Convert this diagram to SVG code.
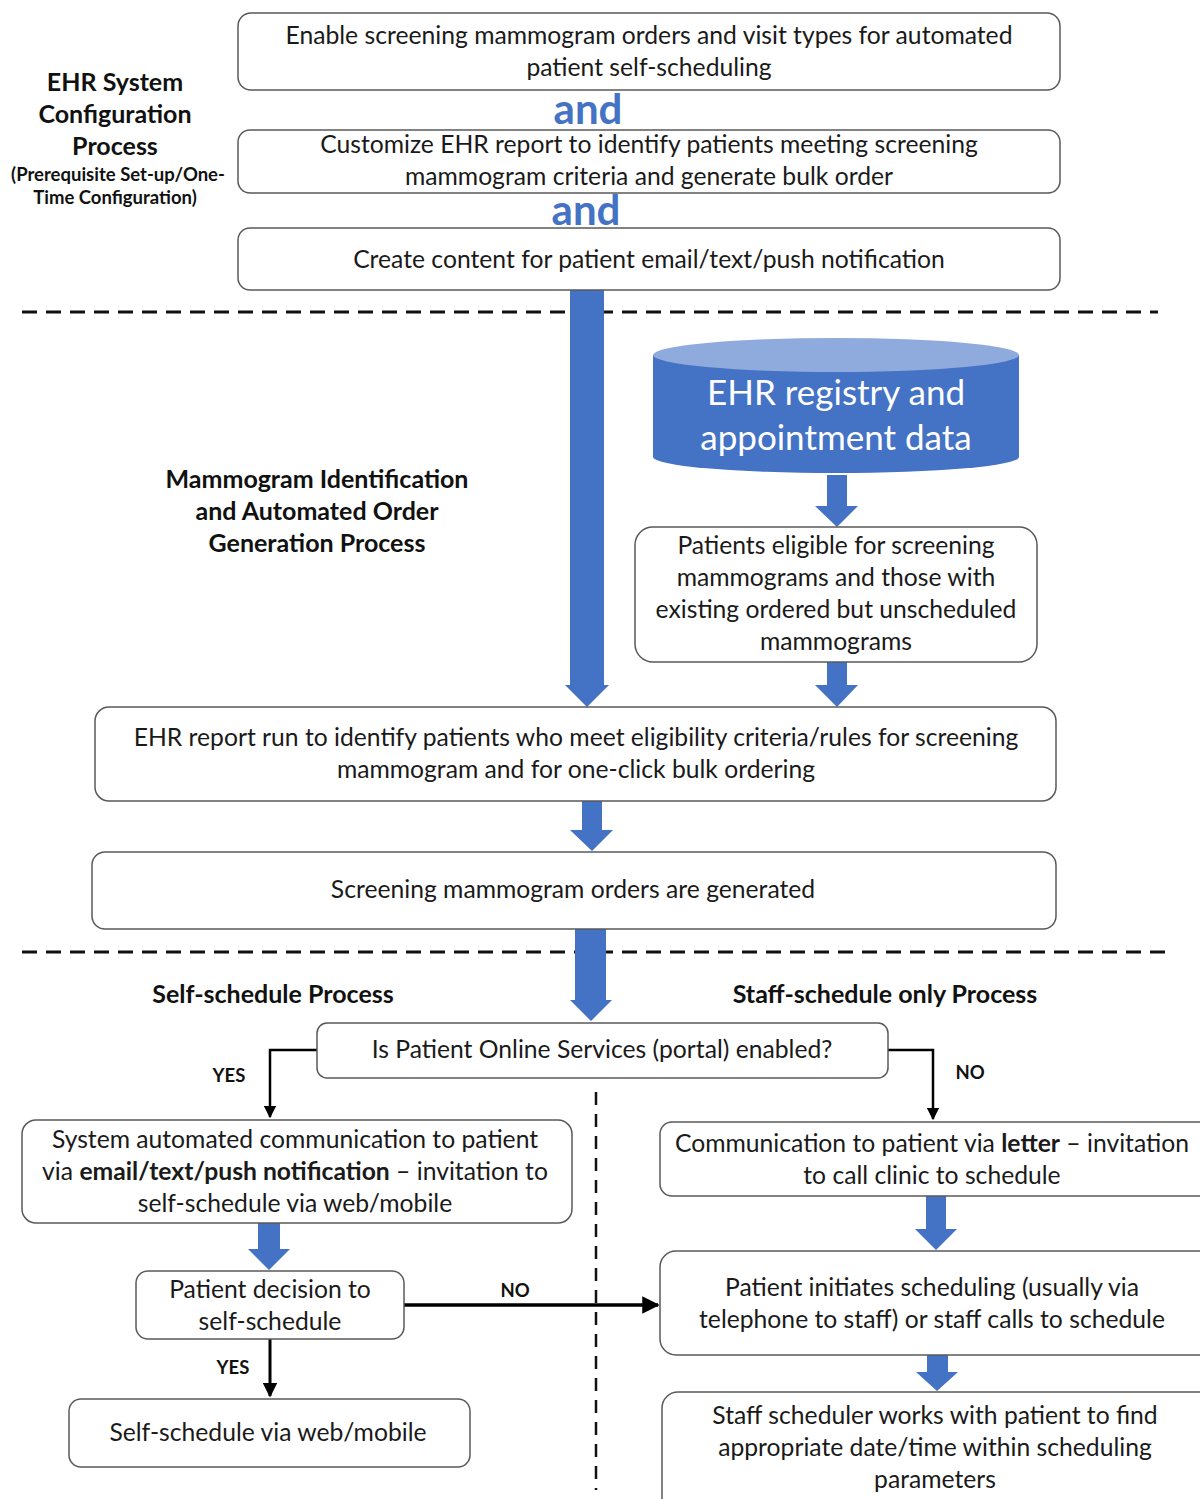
<svg xmlns="http://www.w3.org/2000/svg" width="1200" height="1499" viewBox="0 0 1200 1499">
<style>
.box{fill:#fff;stroke:#595959;stroke-width:1.5}
.t{font-family:Lato,"Liberation Sans",sans-serif;font-size:24.7px;fill:#1a1a1a;text-anchor:middle}
.h{font-family:Lato,"Liberation Sans",sans-serif;font-size:25px;font-weight:bold;fill:#111;text-anchor:middle}
.s{font-family:Lato,"Liberation Sans",sans-serif;font-size:18.5px;font-weight:bold;fill:#111;text-anchor:middle}
.and{font-family:Lato,"Liberation Sans",sans-serif;font-size:42px;font-weight:bold;fill:#4472C4;text-anchor:middle}
.blue{fill:#4472C4}
.dash{stroke:#111;stroke-width:3;stroke-dasharray:15 9;fill:none}
.vdash{stroke:#111;stroke-width:2.5;stroke-dasharray:13 9;fill:none}
.ln{stroke:#000;stroke-width:2.5;fill:none}
</style>
<defs>
<marker id="ah" viewBox="0 0 10 10" refX="9" refY="5" markerWidth="5" markerHeight="5" orient="auto" markerUnits="strokeWidth">
<path d="M0,0 L10,5 L0,10 z" fill="#000"/>
</marker>
</defs>
<rect width="1200" height="1499" fill="#fff"/>

<g id="labels">
<text class="h" x="115" y="91">EHR System</text>
<text class="h" x="115" y="123">Configuration</text>
<text class="h" x="115" y="155">Process</text>
<text class="s" x="118" y="181">(Prerequisite Set-up/One-</text>
<text class="s" x="115" y="204">Time Configuration)</text>
<text class="h" x="317" y="488">Mammogram Identification</text>
<text class="h" x="317" y="520">and Automated Order</text>
<text class="h" x="317" y="552">Generation Process</text>
<text class="h" x="273" y="1003">Self-schedule Process</text>
<text class="h" x="885" y="1003">Staff-schedule only Process</text>
<text class="and" x="588" y="124">and</text>
<text class="and" x="586" y="225">and</text>
</g>

<g id="dividers">
<line class="dash" x1="22" y1="312" x2="1158" y2="312"/>
<line class="dash" x1="22" y1="952" x2="1168" y2="952"/>
<line class="vdash" x1="596" y1="1092" x2="596" y2="1490"/>
</g>

<g id="connectors">
<polygon class="blue" points="570,290 604,290 604,685 609,685 587,707 565,685 570,685"/>
<polygon class="blue" points="827,475 847,475 847,506 858,506 837,527 815,506 827,506"/>
<polygon class="blue" points="827,662 847,662 847,685 858,685 837,707 815,685 827,685"/>
<polygon class="blue" points="582,801 602,801 602,830 613,830 592,851 570,830 582,830"/>
<polygon class="blue" points="575,929 606,929 606,1000 612,1000 591,1021 570,1000 575,1000"/>
<polygon class="blue" points="258,1223 280,1223 280,1249 290,1249 269,1270 248,1249 258,1249"/>
<polygon class="blue" points="926,1196 946,1196 946,1229 957,1229 936,1250 915,1229 926,1229"/>
<polygon class="blue" points="927,1355 948,1355 948,1372 958,1372 937,1391 916,1372 927,1372"/>
<polyline class="ln" points="317,1050 270,1050 270,1117" marker-end="url(#ah)"/>
<polyline class="ln" points="888,1050 933,1050 933,1119" marker-end="url(#ah)"/>
<line x1="404" y1="1305" x2="658" y2="1305" stroke="#000" stroke-width="3.5" marker-end="url(#ah)"/>
<line x1="270" y1="1339" x2="270" y2="1396" stroke="#000" stroke-width="3" marker-end="url(#ah)"/>
<text class="s" x="229" y="1082">YES</text>
<text class="s" x="970" y="1079">NO</text>
<text class="s" x="515" y="1297">NO</text>
<text class="s" x="233" y="1374">YES</text>
</g>

<g id="enable">
<rect class="box" x="238" y="13" width="822" height="77" rx="13"/>
<text class="t" x="649" y="44">Enable screening mammogram orders and visit types for automated</text>
<text class="t" x="649" y="76">patient self-scheduling</text>
</g>
<g id="customize">
<rect class="box" x="238" y="130" width="822" height="63" rx="12"/>
<text class="t" x="649" y="153">Customize EHR report to identify patients meeting screening</text>
<text class="t" x="649" y="185">mammogram criteria and generate bulk order</text>
</g>
<g id="content">
<rect class="box" x="238" y="228" width="822" height="62" rx="12"/>
<text class="t" x="649" y="268">Create content for patient email/text/push notification</text>
</g>

<g id="registry">
<path d="M653,355 L653,457 A183,16 0 0 0 1019,457 L1019,355 Z" fill="#4472C4"/>
<ellipse cx="836" cy="355" rx="183" ry="17" fill="#8FAADC"/>
<text x="836" y="405" font-family="Lato,'Liberation Sans',sans-serif" font-size="35" fill="#fff" text-anchor="middle">EHR registry and</text>
<text x="836" y="450" font-family="Lato,'Liberation Sans',sans-serif" font-size="35" fill="#fff" text-anchor="middle">appointment data</text>
</g>

<g id="eligible">
<rect class="box" x="635" y="527" width="402" height="135" rx="18"/>
<text class="t" x="836" y="554">Patients eligible for screening</text>
<text class="t" x="836" y="586">mammograms and those with</text>
<text class="t" x="836" y="618">existing ordered but unscheduled</text>
<text class="t" x="836" y="650">mammograms</text>
</g>

<g id="report">
<rect class="box" x="95" y="707" width="961" height="94" rx="14"/>
<text class="t" x="576" y="746">EHR report run to identify patients who meet eligibility criteria/rules for screening</text>
<text class="t" x="576" y="778">mammogram and for one-click bulk ordering</text>
</g>

<g id="orders">
<rect class="box" x="92" y="852" width="964" height="77" rx="13"/>
<text class="t" x="573" y="898">Screening mammogram orders are generated</text>
</g>

<g id="portal">
<rect class="box" x="317" y="1023" width="571" height="55" rx="10"/>
<text class="t" x="602" y="1058">Is Patient Online Services (portal) enabled?</text>
</g>

<g id="system">
<rect class="box" x="22" y="1120" width="550" height="103" rx="14"/>
<text class="t" x="295" y="1148">System automated communication to patient</text>
<text class="t" x="295" y="1180">via <tspan font-weight="bold">email/text/push notification</tspan> – invitation to</text>
<text class="t" x="295" y="1212">self-schedule via web/mobile</text>
</g>

<g id="decision">
<rect class="box" x="136" y="1271" width="268" height="68" rx="12"/>
<text class="t" x="270" y="1298">Patient decision to</text>
<text class="t" x="270" y="1330">self-schedule</text>
</g>

<g id="selfschedule">
<rect class="box" x="69" y="1399" width="401" height="68" rx="12"/>
<text class="t" x="268" y="1441">Self-schedule via web/mobile</text>
</g>

<g id="letter">
<rect class="box" x="660" y="1122" width="560" height="74" rx="12"/>
<text class="t" x="932" y="1152">Communication to patient via <tspan font-weight="bold">letter</tspan> – invitation</text>
<text class="t" x="932" y="1184">to call clinic to schedule</text>
</g>

<g id="initiates">
<rect class="box" x="660" y="1251" width="560" height="104" rx="16"/>
<text class="t" x="932" y="1296">Patient initiates scheduling (usually via</text>
<text class="t" x="932" y="1328">telephone to staff) or staff calls to schedule</text>
</g>

<g id="staff">
<rect class="box" x="662" y="1392" width="558" height="130" rx="16"/>
<text class="t" x="935" y="1424">Staff scheduler works with patient to find</text>
<text class="t" x="935" y="1456">appropriate date/time within scheduling</text>
<text class="t" x="935" y="1488">parameters</text>
</g>
</svg>
